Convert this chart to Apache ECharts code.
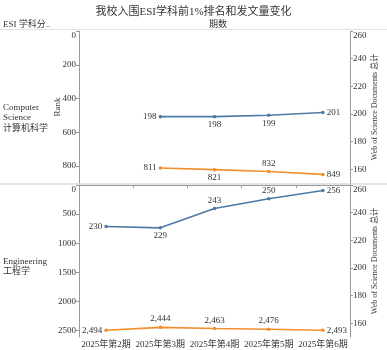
<!DOCTYPE html>
<html><head><meta charset="utf-8">
<script src="https://cdn.jsdelivr.net/npm/echarts@6/dist/echarts.min.js"></script>
<style>html,body{margin:0;padding:0;background:#fff}#c{width:387px;height:350px}</style>
</head><body><div id="c"></div>
<script>
var periods = ['2025年第2期','2025年第3期','2025年第4期','2025年第5期','2025年第6期'];
var csRank = [null, 811, 821, 832, 849];
var csDocs = [null, 198, 198, 199, 201];
var engRank = [2494, 2444, 2463, 2476, 2493];
var engDocs = [230, 229, 243, 250, 256];
var rowNames = ['Computer\nScience\n计算机科学', 'Engineering\n工程学'];

var FONT = '"Liberation Serif","Noto Sans CJK SC",serif';
var BLUE = '#4e79a7', ORANGE = '#f28e2b';
var AX = '#9a9a9a';
var FS = 9;

function fmt(v){ return String(v).replace(/\B(?=(\d{3})+(?!\d))/g, ','); }
function items(vals, pos){
  return vals.map(function(v,i){
    if (v === null) return null;
    return {value: v, label: {position: pos[i]}};
  });
}
function lineSeries(vals, pos, color, gi, yi){
  return {
    type: 'line', xAxisIndex: gi, yAxisIndex: yi,
    data: items(vals, pos),
    symbol: 'circle', symbolSize: 3.5, showSymbol: true,
    lineStyle: {color: color, width: 1.6},
    itemStyle: {color: color},
    label: {show: true, distance: 2, fontFamily: FONT, fontSize: FS, color: '#333',
      formatter: function(p){ return fmt(p.value); }},
    emphasis: {disabled: true}, animation: false, connectNulls: false
  };
}
function yLeft(gi, max, interval, name){
  return {
    type: 'value', gridIndex: gi, position: 'left', inverse: true,
    min: 0, max: max, interval: interval,
    name: name, nameLocation: 'middle', nameGap: 17, nameRotate: 90, nameMoveOverlap: false,
    nameTextStyle: {fontFamily: FONT, fontSize: FS, color: '#333'},
    axisLine: {show: true, lineStyle: {color: AX}},
    axisTick: {show: true, length: 3, lineStyle: {color: AX}},
    axisLabel: {fontFamily: FONT, fontSize: FS, color: '#333', margin: 3, showMaxLabel: false,
      verticalAlignMinLabel: 'top', formatter: function(v){ return String(v); }},
    splitLine: {show: false}
  };
}
function yRight(gi){
  return {
    type: 'value', gridIndex: gi, position: 'right',
    min: 150, max: 260, splitNumber: 5,
    name: 'Web of Science Documents 总计', nameLocation: 'middle', nameGap: 21, nameRotate: 90, nameMoveOverlap: false,
    nameTextStyle: {fontFamily: FONT, fontSize: 8, color: '#333'},
    axisLine: {show: true, lineStyle: {color: AX}},
    axisTick: {show: true, length: 3, lineStyle: {color: AX}},
    axisLabel: {fontFamily: FONT, fontSize: FS, color: '#333', margin: 3, showMinLabel: false,
      verticalAlignMaxLabel: 'top'},
    splitLine: {show: false}
  };
}

var chart = echarts.init(document.getElementById('c'), null, {renderer: 'canvas'});
chart.setOption({
  animation: false,
  textStyle: {fontFamily: FONT},
  title: {text: '我校入围ESI学科前1%排名和发文量变化', left: 'center', top: 2,
    textStyle: {fontFamily: FONT, fontSize: 11, fontWeight: 'normal', color: '#333'}},
  grid: [
    {left: 79, right: 31, top: 31, height: 152},
    {left: 79, right: 31, top: 185, height: 152}
  ],
  xAxis: [
    {type: 'category', gridIndex: 0, data: periods, boundaryGap: true,
      axisLine: {show: false}, axisTick: {show: false}, axisLabel: {show: false}},
    {type: 'category', gridIndex: 1, data: periods, boundaryGap: true,
      axisLine: {show: true, lineStyle: {color: AX}},
      axisTick: {show: true, length: 3, lineStyle: {color: AX}},
      axisLabel: {fontFamily: FONT, fontSize: FS, color: '#333', margin: 3, interval: 0}}
  ],
  yAxis: [
    yLeft(0, 900, 200, 'Rank'),
    yRight(0),
    yLeft(1, 2610, 500, ''),
    yRight(1)
  ],
  series: [
    lineSeries(csDocs, ['left','left','bottom','bottom','right'], BLUE, 0, 1),
    lineSeries(csRank, ['left','left','bottom','top','right'], ORANGE, 0, 0),
    lineSeries(engDocs, ['left','bottom','top','top','right'], BLUE, 1, 3),
    lineSeries(engRank, ['left','top','top','top','right'], ORANGE, 1, 2)
  ],
  graphic: [
    {type: 'line', shape: {x1: 0, y1: 29.5, x2: 387, y2: 29.5}, style: {stroke: '#e3e3e3', lineWidth: 1}, z: -1},
    {type: 'line', shape: {x1: 0, y1: 184, x2: 387, y2: 184}, style: {stroke: '#e3e3e3', lineWidth: 2}, z: -1},
    {type: 'text', left: 3, top: 20, style: {text: 'ESI 学科分..', font: '9px ' + FONT, fill: '#333'}},
    {type: 'text', left: 209, top: 20, style: {text: '期数', font: '9px ' + FONT, fill: '#333'}},
    {type: 'text', left: 3, top: 102, style: {text: rowNames[0], font: FS + 'px ' + FONT, fill: '#333', lineHeight: 10.5}},
    {type: 'text', left: 3, top: 256, style: {text: rowNames[1], font: FS + 'px ' + FONT, fill: '#333', lineHeight: 10.5}}
  ]
});
</script>
</body></html>
